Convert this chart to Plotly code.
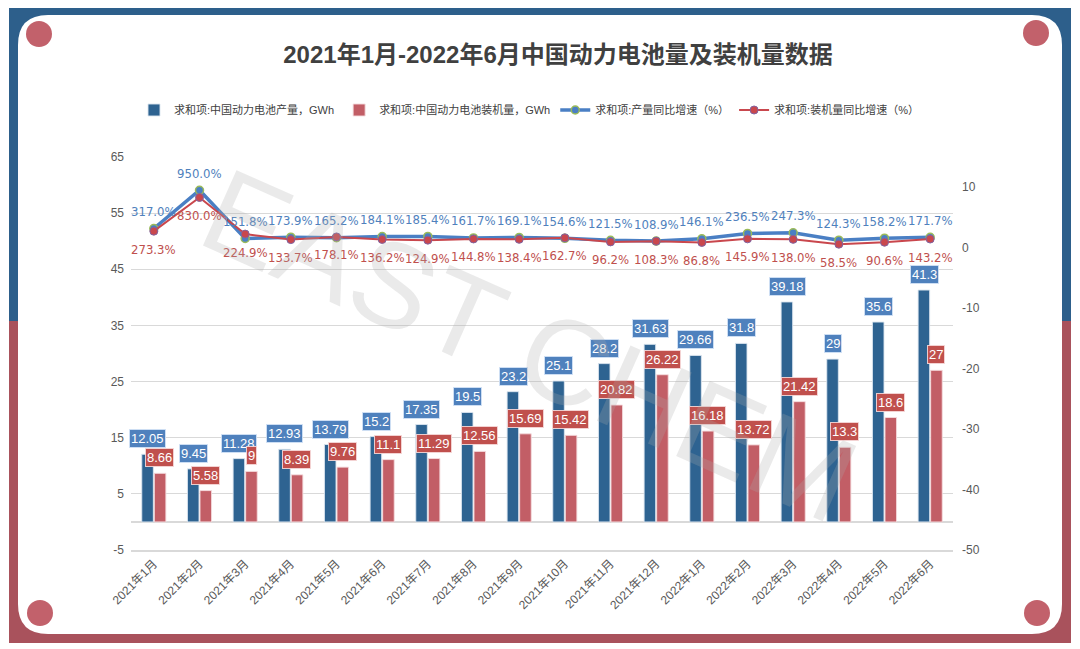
import plotly.graph_objects as go

categories = ["2021年1月", "2021年2月", "2021年3月", "2021年4月", "2021年5月", "2021年6月",
              "2021年7月", "2021年8月", "2021年9月", "2021年10月", "2021年11月", "2021年12月",
              "2022年1月", "2022年2月", "2022年3月", "2022年4月", "2022年5月", "2022年6月"]
production = [12.05, 9.45, 11.28, 12.93, 13.79, 15.2, 17.35, 19.5, 23.2, 25.1, 28.2, 31.63,
              29.66, 31.8, 39.18, 29, 35.6, 41.3]
installed = [8.66, 5.58, 9, 8.39, 9.76, 11.1, 11.29, 12.56, 15.69, 15.42, 20.82, 26.22,
             16.18, 13.72, 21.42, 13.3, 18.6, 27]
prod_yoy_pct = [317.0, 950.0, 151.8, 173.9, 165.2, 184.1, 185.4, 161.7, 169.1, 154.6, 121.5, 108.9,
                146.1, 236.5, 247.3, 124.3, 158.2, 171.7]
inst_yoy_pct = [273.3, 830.0, 224.9, 133.7, 178.1, 136.2, 124.9, 144.8, 138.4, 162.7, 96.2, 108.3,
                86.8, 145.9, 138.0, 58.5, 90.6, 143.2]
left_ticks = [-5, 5, 15, 25, 35, 45, 55, 65]
right_ticks = [-50, -40, -30, -20, -10, 0, 10]

names = ["求和项:中国动力电池产量，GWh", "求和项:中国动力电池装机量，GWh",
         "求和项:产量同比增速（%）", "求和项:装机量同比增速（%）"]
title_text = "2021年1月-2022年6月中国动力电池量及装机量数据"

FONT = "Liberation Sans, Noto Sans CJK SC, sans-serif"
NARROW = "Liberation Sans Narrow, DejaVu Sans Condensed, Liberation Sans, sans-serif"
BLUE_BAR = "#2e6391"
RED_BAR = "#c25e66"
BLUE_LBL = "#4f81bd"
RED_LBL = "#c0504d"

prod_ratio = [v / 100 for v in prod_yoy_pct]
inst_ratio = [v / 100 for v in inst_yoy_pct]

fig = go.Figure()
fig.add_trace(go.Bar(x=categories, y=production, name=names[0], marker_color=BLUE_BAR,
                     marker_line=dict(color="rgba(220,230,240,0.9)", width=1)))
fig.add_trace(go.Bar(x=categories, y=installed, name=names[1], marker_color=RED_BAR,
                     marker_line=dict(color="rgba(245,220,222,0.9)", width=1)))
fig.add_trace(go.Scatter(x=categories, y=prod_ratio, name=names[2], yaxis="y2", mode="lines+markers",
                         line=dict(color="#4a7fc4", width=3.5),
                         marker=dict(size=8, color="#4a7fc4", line=dict(color="#9bbb59", width=1.5))))
fig.add_trace(go.Scatter(x=categories, y=inst_ratio, name=names[3], yaxis="y2", mode="lines+markers",
                         line=dict(color="#c9474d", width=2),
                         marker=dict(size=8, color="#c9474d", line=dict(color="#8064a2", width=1))))

ann = []
for c, v in zip(categories, production):
    ann.append(dict(x=c, y=v, xref="x", yref="y", text=f"{v:g}", showarrow=False,
                    xshift=-6, yshift=6, yanchor="bottom", bgcolor=BLUE_LBL,
                    bordercolor="rgba(210,225,245,0.9)", borderwidth=1, borderpad=1,
                    font=dict(family=FONT, size=13, color="white")))
for c, v in zip(categories, installed):
    ann.append(dict(x=c, y=v, xref="x", yref="y", text=f"{v:g}", showarrow=False,
                    xshift=6, yshift=6, yanchor="bottom", bgcolor=RED_LBL,
                    bordercolor="rgba(245,215,215,0.9)", borderwidth=1, borderpad=1,
                    font=dict(family=FONT, size=13, color="white")))
for c, v, p in zip(categories, prod_ratio, prod_yoy_pct):
    ann.append(dict(x=c, y=v, xref="x", yref="y2", text=f"{p:.1f}%", showarrow=False,
                    yshift=17, font=dict(family=NARROW, size=13, color=BLUE_LBL)))
for c, v, p in zip(categories, inst_ratio, inst_yoy_pct):
    ann.append(dict(x=c, y=v, xref="x", yref="y2", text=f"{p:.1f}%", showarrow=False,
                    yshift=-18, font=dict(family=NARROW, size=13, color=RED_LBL)))

# the page shows the figure with an 8px body offset; target screen pixels below
OFF = 8
FW, FH = 1080, 649
L, R, T, B = 131, 953, 157, 550
W, H = R - L, B - T
def px(x):
    return (x - L) / W
def py(y):
    return (B - y) / H

# watermark
ann.append(dict(x=px(530), y=py(345), xref="paper", yref="paper", text="EAST CHEM", showarrow=False,
                textangle=24, font=dict(family="Liberation Sans, sans-serif", size=120,
                                        color="rgba(170,170,170,0.25)")))

shapes = []
shapes.append(dict(type="rect", xref="paper", yref="paper", x0=px(9), x1=px(1071), y0=py(5), y1=py(321),
                   fillcolor="#2d5f8b", line_width=0, layer="below"))
shapes.append(dict(type="rect", xref="paper", yref="paper", x0=px(9), x1=px(1071), y0=py(321), y1=py(643),
                   fillcolor="#a9525c", line_width=0, layer="below"))
x0, x1, y0, y1, r = 18, 1062, 15, 634, 30
path = (f"M {px(x0 + r)} {py(y0)} L {px(x1 - r)} {py(y0)} Q {px(x1)} {py(y0)} {px(x1)} {py(y0 + r)} "
        f"L {px(x1)} {py(y1 - r)} Q {px(x1)} {py(y1)} {px(x1 - r)} {py(y1)} "
        f"L {px(x0 + r)} {py(y1)} Q {px(x0)} {py(y1)} {px(x0)} {py(y1 - r)} "
        f"L {px(x0)} {py(y0 + r)} Q {px(x0)} {py(y0)} {px(x0 + r)} {py(y0)} Z")
shapes.append(dict(type="path", xref="paper", yref="paper", path=path, fillcolor="white",
                   line_width=0, layer="below"))
for cx, cy in [(39, 34), (1036, 33), (40, 613), (1037, 613)]:
    rr = 13
    shapes.append(dict(type="circle", xref="paper", yref="paper", x0=px(cx - rr), x1=px(cx + rr),
                       y0=py(cy + rr), y1=py(cy - rr), fillcolor="#c2616b", line_width=0, layer="below"))

fig.update_layout(
    width=FW, height=FH,
    margin=dict(l=L - OFF, r=FW - (R - OFF), t=T - OFF, b=FH - (B - OFF), pad=0, autoexpand=False),
    paper_bgcolor="white", plot_bgcolor="rgba(0,0,0,0)",
    font=dict(family=FONT, size=12, color="#595959"),
    title=dict(text=f"<b>{title_text}</b>", x=(558 - OFF) / FW, xref="container", xanchor="center",
               y=1 - (55 - OFF) / FH, yref="container", yanchor="middle",
               font=dict(family=FONT, size=24, color="#404040")),
    barmode="group", bargap=0.45, bargroupgap=0.08,
    legend=dict(orientation="h", x=(529 - OFF) / FW, xref="container", xanchor="center",
                y=1 - (110 - OFF) / FH, yref="container", yanchor="middle",
                font=dict(family=FONT, size=11, color="#404040"), bgcolor="rgba(0,0,0,0)",
                itemwidth=30, tracegroupgap=0),
    xaxis=dict(type="category", range=[-0.5, len(categories) - 0.5], tickangle=-45,
               tickfont=dict(size=12, color="#595959"),
               showgrid=False, showline=True, linecolor="#d9d9d9", linewidth=2, ticks="",
               automargin=False),
    yaxis=dict(range=[-5, 65], tickvals=left_ticks, ticktext=[str(t) for t in left_ticks],
               showgrid=True, gridcolor="#d9d9d9", gridwidth=1,
               zeroline=True, zerolinecolor="#d9d9d9", zerolinewidth=2, automargin=False,
               tickfont=dict(size=12, color="#595959"), ticks="", ticklabelstandoff=6),
    yaxis2=dict(range=[-50, 15], tickvals=right_ticks, ticktext=[str(t) for t in right_ticks],
                overlaying="y", side="right", showgrid=False,
                zeroline=False, tickfont=dict(size=12, color="#595959"), ticks="", ticklabelstandoff=8,
                automargin=False),
    annotations=ann, shapes=shapes,
)

fig.write_html("out.html")
